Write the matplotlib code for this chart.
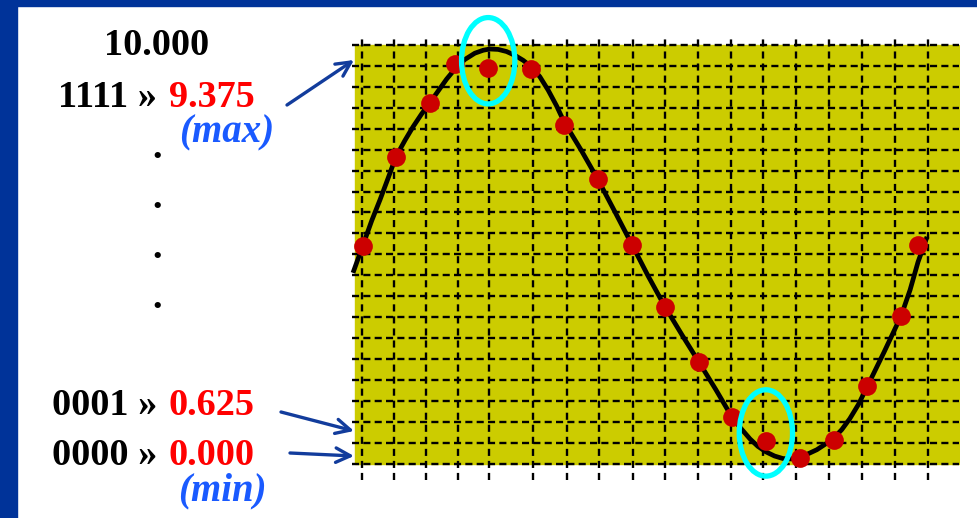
"""Sampled sine wave against 4-bit quantisation levels."""
import numpy as np
import matplotlib.pyplot as plt
from matplotlib.patches import Rectangle, Ellipse

W, H = 978, 518

# sample instants (grid units) and sampled voltages
sample_t = [0.23, 1.23, 2.25, 3.00, 4.00, 5.29, 6.29, 7.31, 8.31, 9.31,
            10.34, 11.33, 12.34, 13.36, 14.38, 15.39, 16.40, 16.90]
sample_v = [5.20, 7.33, 8.61, 9.54, 9.44, 9.42, 8.09, 6.79, 5.23, 3.74,
            2.44, 1.13, 0.56, 0.15, 0.57, 1.85, 3.53, 5.23]

# analog signal
wave_t = [-0.06, 0.23, 0.50, 0.75, 1.00, 1.23, 1.50, 1.74, 2.00, 2.25,
          2.50, 2.75, 3.00, 3.30, 3.60, 3.85, 4.05, 4.30, 4.55, 4.80,
          5.05, 5.29, 5.55, 5.80, 6.05, 6.28, 6.79, 7.30, 7.81, 8.32,
          8.80, 9.31, 9.82, 10.33, 10.84, 11.32, 11.60, 11.86, 12.10,
          12.34, 12.60, 12.85, 13.10, 13.36, 13.60, 13.87, 14.10, 14.38,
          14.62, 14.86, 15.12, 15.38, 15.89, 16.40, 16.67, 16.91, 17.18]
wave_v = [4.56, 5.20, 5.80, 6.30, 6.83, 7.33, 7.72, 8.04, 8.35, 8.62,
          8.90, 9.18, 9.42, 9.65, 9.80, 9.87, 9.90, 9.89, 9.84, 9.75,
          9.63, 9.48, 9.24, 8.92, 8.55, 8.16, 7.49, 6.78, 6.01, 5.23,
          4.49, 3.75, 3.08, 2.43, 1.77, 1.12, 0.84, 0.60, 0.42,
          0.29, 0.19, 0.13, 0.12, 0.16, 0.24, 0.34, 0.46, 0.62,
          0.82, 1.08, 1.42, 1.84, 2.67, 3.53, 4.15, 4.82, 5.42]

# dashed grid
grid_t = [0.20, 1.18, 2.13, 3.10, 4.02, 5.35, 6.36, 7.34, 8.34, 9.31,
          10.31, 11.28, 12.26, 13.24, 14.23, 15.22, 16.22, 17.22]
grid_v = np.arange(0, 10.01, 0.5)

t_end = 18.14
highlight = [4, 12]  # circled samples


def fpos(x, y):
    """Pixel position (from top-left) to figure fraction."""
    return x / W, 1 - y / H


fig = plt.figure(figsize=(W / 100, H / 100), dpi=100)
fig.patch.set_facecolor("white")

# slide border
fig.patches.append(Rectangle((0, 0), 17 / W, 1, transform=fig.transFigure,
                             color="#003399", zorder=0))
fig.patches.append(Rectangle((0, 1 - 6 / H), 1, 6 / H, transform=fig.transFigure,
                             color="#003399", zorder=0))

ax = fig.add_axes([350 / W, 36 / H, 610 / W, 446 / H])
ax.set_xlim(-0.15, 18.17)
ax.set_ylim(-0.43, 10.21)
ax.axis("off")

ax.add_patch(Rectangle((0, 0), t_end, 10, color="#cccc00", zorder=1))
ax.hlines(grid_v, -0.09, t_end, colors="black", lw=1.7,
          linestyles=(0, (3.0, 1.8)), zorder=2)
ax.vlines(grid_t, -0.38, 10.14, colors="black", lw=1.7,
          linestyles=(0, (3.0, 2.1)), zorder=2)

ax.plot(wave_t, wave_v, color="black", lw=3.4, zorder=3,
        solid_capstyle="butt", solid_joinstyle="round")
ax.plot(sample_t, sample_v, "o", color="#cc0000", ms=13.5, mec="none", zorder=4)

for i in highlight:
    ax.add_patch(Ellipse((sample_t[i], sample_v[i] + 0.18), 1.6, 2.06,
                         fill=False, ec="#00ffff", lw=3.8, zorder=5,
                         clip_on=False))

# level labels
serif = ["Liberation Serif", "DejaVu Serif"]
big = dict(family=serif, fontweight="bold", fontsize=27.5, va="baseline")
fig.text(*fpos(157, 55), "10.000", ha="center", color="black", **big)
rows = [("1111 »", "9.375", 107), ("0001 »", "0.625", 415), ("0000 »", "0.000", 465)]
for code, val, y in rows:
    fig.text(*fpos(157, y), code, ha="right", color="black", **big)
    fig.text(*fpos(169, y), val, ha="left", color="#ff0000", **big)

for y in [158, 208, 258, 308]:
    fig.text(*fpos(157, y), ".", ha="center", color="black", **big)

tag = dict(family=serif, fontweight="bold", style="italic", fontsize=28,
           color="#1a5aff", va="center")
fig.text(*fpos(227, 133), "(max)", ha="center", **tag)
fig.text(*fpos(222, 491), "(min)", ha="center", **tag)

# arrows to the levels
arrows = [((287, 105), (354, 60)), ((281, 412), (354, 431)), ((290, 453), (354, 456))]
for tail, head in arrows:
    ax.annotate("", xy=(head[0], H - head[1]), xycoords="figure pixels",
                xytext=(tail[0], H - tail[1]), textcoords="figure pixels",
                arrowprops=dict(arrowstyle="->", color="#123c9c", lw=2.4,
                                mutation_scale=26, shrinkA=0, shrinkB=0),
                annotation_clip=False)

plt.savefig("out.png", dpi=100)
